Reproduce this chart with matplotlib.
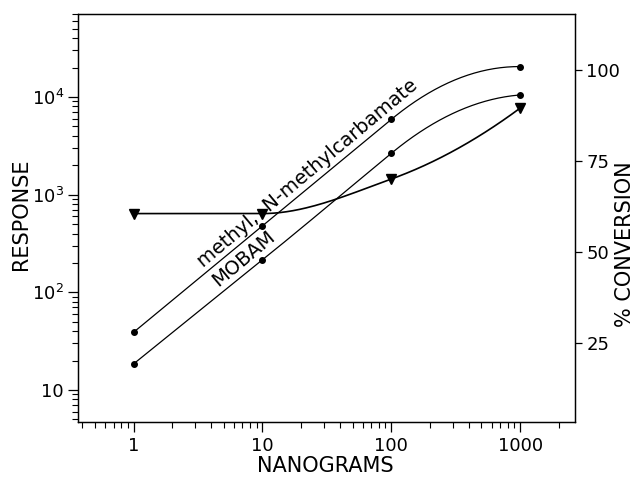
import numpy as np
import matplotlib
matplotlib.use("Agg")
import matplotlib.pyplot as plt
from matplotlib.ticker import LogLocator, NullFormatter, FixedLocator, FixedFormatter

# ---- data ----
nanograms = [1, 10, 100, 1000]
methyl_response = [39, 480, 5900, 20500]      # methyl, N-methylcarbamate (dots, left axis)
mobam_response = [18.5, 215, 2650, 10500]     # MOBAM (dots, left axis)
conversion_pct = [60.5, 60.5, 70, 89.5]       # % conversion (triangles, right axis)

x_ticks = [1, 10, 100, 1000]
x_ticklabels = ["1", "10", "100", "1000"]
y_ticks = [10, 100, 1000, 10000]
y_ticklabels = ["10", "$10^2$", "$10^3$", "$10^4$"]
r_ticks = [25, 50, 75, 100]
r_ticklabels = ["25", "50", "75", "100"]


def hermite(xk, yk, mode="pchip", n=60):
    """Smooth drawing curve through the data points (rendering only)."""
    xk = np.asarray(xk, float); yk = np.asarray(yk, float)
    h = np.diff(xk); d = np.diff(yk) / h
    m = np.zeros_like(yk)
    if mode == "pchip":
        for i in range(1, len(xk) - 1):
            if d[i - 1] * d[i] <= 0:
                m[i] = 0.0
            else:
                w1 = 2 * h[i] + h[i - 1]; w2 = h[i] + 2 * h[i - 1]
                m[i] = (w1 + w2) / (w1 / d[i - 1] + w2 / d[i])
        s = ((2 * h[0] + h[1]) * d[0] - h[0] * d[1]) / (h[0] + h[1])
        m[0] = 0.0 if (d[0] == 0 or np.sign(s) != np.sign(d[0])) else s
        m[-1] = 2 * d[-1] - m[-2]
    else:  # straight run-in, bend after the point
        m[0] = d[0]
        for i in range(1, len(xk) - 1):
            m[i] = d[i - 1]
        m[-1] = 2 * d[-1] - m[-2]
    xs, ys = [], []
    for i in range(len(xk) - 1):
        t = np.linspace(0, 1, n)
        h00 = 2 * t**3 - 3 * t**2 + 1; h10 = t**3 - 2 * t**2 + t
        h01 = -2 * t**3 + 3 * t**2; h11 = t**3 - t**2
        xs.append(xk[i] + t * h[i])
        ys.append(h00 * yk[i] + h10 * h[i] * m[i] + h01 * yk[i + 1] + h11 * h[i] * m[i + 1])
    return np.concatenate(xs), np.concatenate(ys)


fig = plt.figure(figsize=(6.39, 4.79), dpi=100)
ax = fig.add_axes([0.122, 0.119, 0.778, 0.852])
ax.set_xscale("log"); ax.set_yscale("log")
ax.set_xlim(0.37, 2670)
ax.set_ylim(4.7, 71000)

lx = np.log10(nanograms)
for resp in (methyl_response, mobam_response):
    cx, cy = hermite(lx, np.log10(resp), mode="left")
    ax.plot(10**cx, 10**cy, color="black", lw=0.9)
    ax.plot(nanograms, resp, "o", color="black", ms=4)

ax2 = ax.twinx()
ax2.set_ylim(3.2, 115.4)
cx, cy = hermite(lx, conversion_pct, mode="pchip")
ax2.plot(10**cx, cy, color="black", lw=1.2)
ax2.plot(nanograms, conversion_pct, "v", color="black", ms=6.5)

fs = 13
ax.xaxis.set_major_locator(FixedLocator(x_ticks))
ax.xaxis.set_major_formatter(FixedFormatter(x_ticklabels))
ax.xaxis.set_minor_locator(LogLocator(base=10, subs=np.arange(2, 10), numticks=20))
ax.xaxis.set_minor_formatter(NullFormatter())
ax.yaxis.set_major_locator(FixedLocator(y_ticks))
ax.yaxis.set_major_formatter(FixedFormatter(y_ticklabels))
ax.yaxis.set_minor_locator(LogLocator(base=10, subs=np.arange(2, 10), numticks=20))
ax.yaxis.set_minor_formatter(NullFormatter())
ax.tick_params(which="major", direction="out", length=7, width=0.9, labelsize=fs, pad=3)
ax.tick_params(which="minor", direction="out", length=4, width=0.8)
ax.tick_params(axis="x", which="major", pad=4)

ax2.yaxis.set_major_locator(FixedLocator(r_ticks))
ax2.yaxis.set_major_formatter(FixedFormatter(r_ticklabels))
ax2.tick_params(axis="y", which="major", direction="out", length=5, width=0.9, labelsize=fs, pad=3)

for a in (ax, ax2):
    for s in a.spines.values():
        s.set_linewidth(0.9)

lfs = 15
fig.text(21 / 639, 1 - 214 / 479, "RESPONSE", rotation=90, ha="center", va="center", fontsize=lfs)
fig.text(625 / 639, 1 - 244 / 479, "% CONVERSION", rotation=90, ha="center", va="center", fontsize=lfs)
fig.text(325 / 639, 1 - 466 / 479, "NANOGRAMS", ha="center", va="center", fontsize=lfs)

ax.text(0.461, 0.608, "methyl,  N-methylcarbamate", transform=ax.transAxes, rotation=40,
        ha="center", va="center", rotation_mode="anchor", fontsize=14)
ax.text(0.334, 0.40, "MOBAM", transform=ax.transAxes, rotation=40,
        ha="center", va="center", rotation_mode="anchor", fontsize=14)

fig.savefig("out.png", dpi=100)
